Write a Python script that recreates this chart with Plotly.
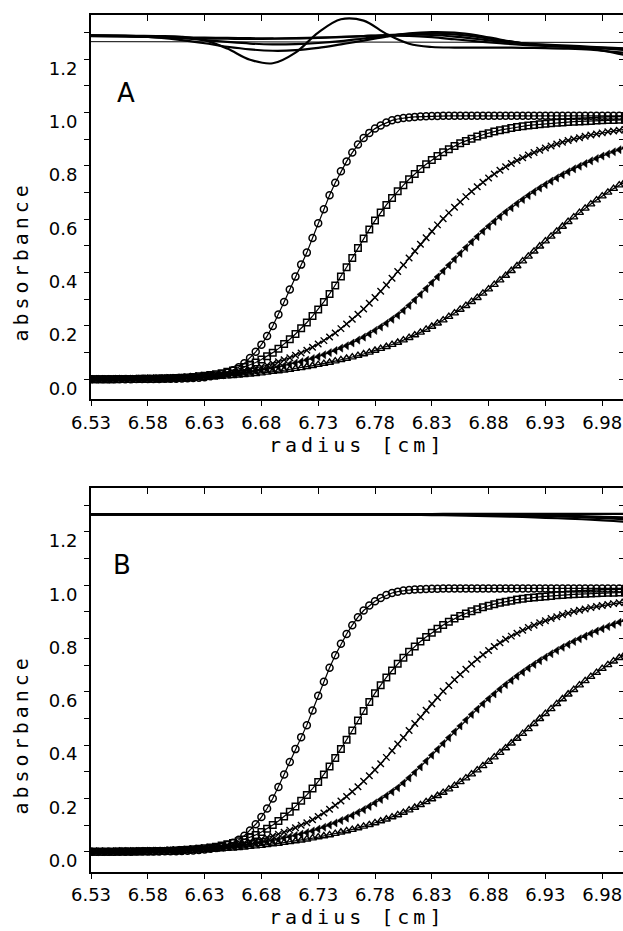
import plotly.graph_objects as go

# ---------------- data ----------------
radius = [6.530, 6.535, 6.540, 6.545, 6.550, 6.555, 6.560, 6.565, 6.570, 6.575,
          6.580, 6.585, 6.590, 6.595, 6.600, 6.605, 6.610, 6.615, 6.620, 6.625,
          6.630, 6.635, 6.640, 6.645, 6.650, 6.655, 6.660, 6.665, 6.670, 6.675,
          6.680, 6.685, 6.690, 6.695, 6.700, 6.705, 6.710, 6.715, 6.720, 6.725,
          6.730, 6.735, 6.740, 6.745, 6.750, 6.755, 6.760, 6.765, 6.770, 6.775,
          6.780, 6.785, 6.790, 6.795, 6.800, 6.805, 6.810, 6.815, 6.820, 6.825,
          6.830, 6.835, 6.840, 6.845, 6.850, 6.855, 6.860, 6.865, 6.870, 6.875,
          6.880, 6.885, 6.890, 6.895, 6.900, 6.905, 6.910, 6.915, 6.920, 6.925,
          6.930, 6.935, 6.940, 6.945, 6.950, 6.955, 6.960, 6.965, 6.970, 6.975,
          6.980, 6.985, 6.990, 6.995, 7.000]

scan1_circles = [0.000, 0.000, 0.000, 0.000, 0.000, 0.000, 0.000, 0.000, 0.001, 0.001,
                 0.001, 0.001, 0.001, 0.002, 0.002, 0.002, 0.003, 0.004, 0.005, 0.006,
                 0.008, 0.011, 0.014, 0.019, 0.025, 0.034, 0.045, 0.060, 0.080, 0.103,
                 0.130, 0.162, 0.200, 0.243, 0.290, 0.337, 0.385, 0.430, 0.475, 0.530,
                 0.585, 0.638, 0.690, 0.737, 0.780, 0.817, 0.850, 0.880, 0.905, 0.924,
                 0.940, 0.952, 0.963, 0.971, 0.976, 0.980, 0.982, 0.984, 0.985, 0.986,
                 0.987, 0.987, 0.988, 0.988, 0.988, 0.988, 0.988, 0.988, 0.988, 0.988,
                 0.988, 0.988, 0.988, 0.988, 0.988, 0.988, 0.988, 0.988, 0.988, 0.988,
                 0.988, 0.988, 0.988, 0.988, 0.988, 0.988, 0.988, 0.988, 0.988, 0.988,
                 0.988, 0.988, 0.988, 0.988, 0.988]

scan2_squares = [0.000, 0.000, 0.000, 0.000, 0.000, 0.001, 0.001, 0.001, 0.001, 0.002,
                 0.002, 0.002, 0.003, 0.003, 0.004, 0.005, 0.006, 0.007, 0.009, 0.011,
                 0.013, 0.016, 0.019, 0.023, 0.028, 0.033, 0.039, 0.046, 0.054, 0.063,
                 0.074, 0.086, 0.100, 0.115, 0.132, 0.150, 0.170, 0.191, 0.213, 0.237,
                 0.262, 0.290, 0.320, 0.352, 0.385, 0.420, 0.455, 0.492, 0.528, 0.562,
                 0.595, 0.625, 0.654, 0.680, 0.705, 0.728, 0.750, 0.770, 0.789, 0.806,
                 0.822, 0.837, 0.851, 0.863, 0.875, 0.885, 0.894, 0.902, 0.910, 0.917,
                 0.923, 0.929, 0.934, 0.938, 0.942, 0.946, 0.949, 0.952, 0.954, 0.956,
                 0.958, 0.960, 0.962, 0.963, 0.965, 0.966, 0.967, 0.968, 0.969, 0.970,
                 0.971, 0.972, 0.972, 0.973, 0.973]

scan3_crosses = [0.000, 0.000, 0.000, 0.001, 0.001, 0.001, 0.001, 0.002, 0.002, 0.002,
                 0.003, 0.003, 0.004, 0.005, 0.006, 0.007, 0.008, 0.009, 0.011, 0.013,
                 0.015, 0.017, 0.019, 0.021, 0.024, 0.027, 0.030, 0.034, 0.038, 0.042,
                 0.047, 0.053, 0.059, 0.066, 0.073, 0.081, 0.090, 0.099, 0.109, 0.120,
                 0.132, 0.145, 0.159, 0.174, 0.190, 0.207, 0.225, 0.244, 0.264, 0.285,
                 0.307, 0.330, 0.354, 0.379, 0.404, 0.429, 0.455, 0.481, 0.506, 0.531,
                 0.555, 0.579, 0.602, 0.624, 0.645, 0.665, 0.685, 0.704, 0.722, 0.739,
                 0.755, 0.770, 0.784, 0.797, 0.809, 0.820, 0.831, 0.841, 0.850, 0.859,
                 0.867, 0.875, 0.882, 0.889, 0.895, 0.901, 0.906, 0.911, 0.916, 0.920,
                 0.924, 0.928, 0.931, 0.934, 0.937]

scan4_filled_tri = [0.000, 0.000, 0.000, 0.000, 0.001, 0.001, 0.001, 0.001, 0.002, 0.002,
                    0.002, 0.003, 0.003, 0.004, 0.004, 0.005, 0.006, 0.007, 0.008, 0.009,
                    0.011, 0.012, 0.014, 0.016, 0.018, 0.020, 0.022, 0.025, 0.028, 0.031,
                    0.034, 0.038, 0.042, 0.046, 0.051, 0.056, 0.061, 0.066, 0.072, 0.078,
                    0.085, 0.092, 0.100, 0.108, 0.117, 0.126, 0.136, 0.147, 0.158, 0.170,
                    0.183, 0.196, 0.210, 0.225, 0.240, 0.258, 0.277, 0.297, 0.318, 0.340,
                    0.362, 0.384, 0.406, 0.428, 0.450, 0.472, 0.494, 0.515, 0.535, 0.555,
                    0.574, 0.592, 0.610, 0.627, 0.643, 0.659, 0.674, 0.689, 0.703, 0.717,
                    0.730, 0.743, 0.755, 0.767, 0.778, 0.789, 0.799, 0.809, 0.819, 0.828,
                    0.837, 0.845, 0.853, 0.861, 0.868]

scan5_open_tri = [0.000, 0.000, 0.000, 0.000, 0.000, 0.001, 0.001, 0.001, 0.001, 0.001,
                  0.002, 0.002, 0.002, 0.002, 0.003, 0.003, 0.004, 0.004, 0.005, 0.006,
                  0.007, 0.008, 0.009, 0.010, 0.012, 0.013, 0.015, 0.017, 0.019, 0.021,
                  0.023, 0.026, 0.029, 0.031, 0.034, 0.037, 0.040, 0.043, 0.047, 0.051,
                  0.055, 0.059, 0.063, 0.068, 0.073, 0.078, 0.083, 0.089, 0.095, 0.101,
                  0.108, 0.115, 0.122, 0.130, 0.138, 0.147, 0.156, 0.166, 0.176, 0.187,
                  0.198, 0.210, 0.222, 0.235, 0.248, 0.262, 0.276, 0.291, 0.306, 0.322,
                  0.338, 0.355, 0.372, 0.389, 0.407, 0.425, 0.443, 0.461, 0.480, 0.499,
                  0.518, 0.536, 0.555, 0.573, 0.591, 0.608, 0.625, 0.641, 0.657, 0.672,
                  0.687, 0.701, 0.715, 0.728, 0.741]

# residuals (plotted with an offset near the top of each panel)
resid_radius = [6.53, 6.55, 6.57, 6.59, 6.61, 6.63, 6.65, 6.67, 6.69, 6.71, 6.73, 6.75, 6.77,
                6.79, 6.81, 6.83, 6.85, 6.87, 6.89, 6.91, 6.93, 6.95, 6.97, 6.99, 7.01]

residA_1 = [1.290, 1.289, 1.288, 1.287, 1.284, 1.272, 1.240, 1.198, 1.185, 1.225, 1.300, 1.350, 1.345,
            1.295, 1.258, 1.246, 1.244, 1.244, 1.244, 1.243, 1.242, 1.240, 1.236, 1.228, 1.220]
residA_2 = [1.289, 1.288, 1.286, 1.281, 1.272, 1.260, 1.247, 1.237, 1.232, 1.234, 1.243, 1.256, 1.270,
            1.285, 1.297, 1.302, 1.300, 1.290, 1.274, 1.260, 1.251, 1.246, 1.240, 1.225, 1.205]
residA_3 = [1.290, 1.289, 1.287, 1.284, 1.279, 1.272, 1.265, 1.259, 1.256, 1.257, 1.261, 1.268, 1.278,
            1.288, 1.294, 1.296, 1.293, 1.284, 1.271, 1.260, 1.253, 1.248, 1.244, 1.238, 1.232]
residA_4 = [1.288, 1.287, 1.285, 1.282, 1.280, 1.278, 1.277, 1.276, 1.277, 1.279, 1.281, 1.284, 1.287,
            1.289, 1.288, 1.283, 1.275, 1.267, 1.260, 1.254, 1.250, 1.247, 1.244, 1.241, 1.238]
residA_5 = [1.287, 1.286, 1.285, 1.283, 1.282, 1.281, 1.280, 1.279, 1.278, 1.278, 1.280, 1.283, 1.287,
            1.291, 1.293, 1.291, 1.285, 1.276, 1.267, 1.260, 1.255, 1.251, 1.247, 1.243, 1.239]

residB_1 = [1.267, 1.267, 1.267, 1.267, 1.267, 1.267, 1.267, 1.267, 1.267, 1.267, 1.267, 1.267, 1.267,
            1.267, 1.267, 1.267, 1.268, 1.268, 1.268, 1.268, 1.268, 1.268, 1.268, 1.268, 1.268]
residB_2 = [1.266, 1.266, 1.266, 1.266, 1.266, 1.266, 1.266, 1.266, 1.266, 1.266, 1.266, 1.266, 1.266,
            1.266, 1.265, 1.265, 1.264, 1.263, 1.262, 1.261, 1.259, 1.257, 1.254, 1.250, 1.246]
residB_3 = [1.266, 1.266, 1.266, 1.266, 1.266, 1.266, 1.266, 1.266, 1.266, 1.266, 1.266, 1.266, 1.266,
            1.265, 1.264, 1.263, 1.262, 1.260, 1.258, 1.256, 1.253, 1.250, 1.246, 1.241, 1.236]
residB_4 = [1.265, 1.265, 1.265, 1.265, 1.265, 1.265, 1.265, 1.265, 1.265, 1.265, 1.265, 1.265, 1.265,
            1.265, 1.265, 1.265, 1.265, 1.264, 1.263, 1.262, 1.261, 1.259, 1.257, 1.254, 1.250]
residB_5 = [1.266, 1.266, 1.266, 1.266, 1.266, 1.266, 1.266, 1.266, 1.266, 1.266, 1.266, 1.266, 1.266,
            1.266, 1.266, 1.266, 1.266, 1.265, 1.264, 1.263, 1.262, 1.260, 1.258, 1.256, 1.253]

resid_zero_radius = [6.53, 7.01]
resid_zero_level = [1.266, 1.263]

x_tickvals = [6.53, 6.58, 6.63, 6.68, 6.73, 6.78, 6.83, 6.88, 6.93, 6.98]
x_ticktext = ["6.53", "6.58", "6.63", "6.68", "6.73", "6.78", "6.83", "6.88", "6.93", "6.98"]
y_tickvals = [0.0, 0.1, 0.2, 0.3, 0.4, 0.5, 0.6, 0.7, 0.8, 0.9, 1.0, 1.1, 1.2, 1.3]
y_ticktext = ["0.0", "", "0.2", "", "0.4", "", "0.6", "", "0.8", "", "1.0", "", "1.2", ""]

# ---------------- figure ----------------
W, H = 623, 931
fig = go.Figure()

series = [
    (scan1_circles, dict(symbol="circle-open", size=7, color="black", line=dict(width=1.5, color="black"))),
    (scan2_squares, dict(symbol="square-open", size=6.5, color="black", line=dict(width=1.5, color="black"))),
    (scan3_crosses, dict(symbol="x-thin-open", size=6.5, color="black", line=dict(width=1.4, color="black"))),
    (scan4_filled_tri, dict(symbol="triangle-left", size=7, color="black", line=dict(width=0.5, color="black"))),
    (scan5_open_tri, dict(symbol="triangle-up-open", size=7, color="black", line=dict(width=1.4, color="black"))),
]

panels = [
    ("x", "y", [residA_1, residA_2, residA_3, residA_4, residA_5], True),
    ("x2", "y2", [residB_1, residB_2, residB_3, residB_4, residB_5], False),
]

for xa, ya, resids, show_zero in panels:
    if show_zero:
        fig.add_trace(go.Scatter(x=resid_zero_radius, y=resid_zero_level, mode="lines",
                                 line=dict(color="black", width=1), xaxis=xa, yaxis=ya,
                                 showlegend=False, hoverinfo="skip"))
    for r in resids:
        fig.add_trace(go.Scatter(x=resid_radius, y=r, mode="lines",
                                 line=dict(color="black", width=2.2, shape="spline"),
                                 xaxis=xa, yaxis=ya, showlegend=False, hoverinfo="skip"))
    for vals, mk in series:
        fig.add_trace(go.Scatter(x=radius, y=vals, mode="lines+markers",
                                 line=dict(color="black", width=1.2),
                                 marker=mk, xaxis=xa, yaxis=ya,
                                 showlegend=False, hoverinfo="skip"))

# dummy traces so mirrored-tick overlay axes get drawn
fig.add_trace(go.Scatter(x=[None], y=[None], xaxis="x3", yaxis="y", showlegend=False, hoverinfo="skip"))
fig.add_trace(go.Scatter(x=[None], y=[None], xaxis="x", yaxis="y3", showlegend=False, hoverinfo="skip"))
fig.add_trace(go.Scatter(x=[None], y=[None], xaxis="x4", yaxis="y2", showlegend=False, hoverinfo="skip"))
fig.add_trace(go.Scatter(x=[None], y=[None], xaxis="x2", yaxis="y4", showlegend=False, hoverinfo="skip"))

x_left = 91.0
x_dom = [x_left / W, 1.0]
x_range = [6.53, 6.53 + (W - x_left) / 1136.0]
yA_dom = [(H - 399.3) / H, (H - 15.0) / H]
yB_dom = [(H - 871.7) / H, (H - 487.7) / H]
y_range = [-0.075, 1.366]

tickfont = dict(family="DejaVu Sans", size=18, color="black")

def main_x(dom_anchor):
    return dict(domain=x_dom, range=x_range, anchor=dom_anchor, showline=True, mirror=True,
                linecolor="black", linewidth=2, ticks="outside", ticklen=5, tickwidth=1.3,
                tickcolor="black", tickvals=x_tickvals, ticktext=x_ticktext, tickfont=tickfont,
                ticklabelstandoff=1,
                showgrid=False, zeroline=False, automargin=False, fixedrange=True)

def main_y(dom, anchor):
    return dict(domain=dom, range=y_range, anchor=anchor, showline=True, mirror=True,
                linecolor="black", linewidth=2, ticks="outside", ticklen=5, tickwidth=1.3,
                tickcolor="black", tickvals=y_tickvals, ticktext=y_ticktext, tickfont=tickfont,
                ticklabelshift=9, ticklabelstandoff=3,
                showgrid=False, zeroline=False, automargin=False, fixedrange=True)

def top_x(over, anchor):
    return dict(domain=x_dom, range=x_range, overlaying=over, anchor=anchor, side="top",
                showline=False, ticks="inside", ticklen=6, tickwidth=1.3, tickcolor="black",
                tickvals=x_tickvals, showticklabels=False, showgrid=False, zeroline=False,
                automargin=False, fixedrange=True)

def right_y(over, anchor, dom):
    return dict(domain=dom, range=y_range, overlaying=over, anchor=anchor, side="right",
                showline=False, ticks="inside", ticklen=4, tickwidth=1.3, tickcolor="black",
                tickvals=y_tickvals, showticklabels=False, showgrid=False, zeroline=False,
                automargin=False, fixedrange=True)

title_font = dict(family="DejaVu Sans Mono", size=20, color="black")
spaced = lambda s: '<span style="letter-spacing:4px">' + s + "</span>"

annotations = []
for ycen, yt, lab, lx, ly in [(261.5, 445.0, "A", 126.0, 93.0), (734.5, 917.0, "B", 122.0, 565.0)]:
    annotations.append(dict(text=spaced("absorbance"), x=20.0 / W, y=1 - ycen / H, xref="paper", yref="paper",
                            textangle=-90, showarrow=False, xanchor="center", yanchor="middle", font=title_font))
    annotations.append(dict(text=spaced("radius [cm]"), x=357.0 / W, y=1 - yt / H, xref="paper", yref="paper",
                            showarrow=False, xanchor="center", yanchor="middle", font=title_font))
    annotations.append(dict(text=lab, x=lx / W, y=1 - ly / H, xref="paper", yref="paper",
                            showarrow=False, xanchor="center", yanchor="middle",
                            font=dict(family="DejaVu Sans", size=26, color="black")))

fig.update_layout(
    width=W, height=H,
    margin=dict(l=0, r=0, t=0, b=0, pad=0),
    paper_bgcolor="white", plot_bgcolor="white",
    showlegend=False,
    xaxis=main_x("y"), yaxis=main_y(yA_dom, "x"),
    xaxis2=main_x("y2"), yaxis2=main_y(yB_dom, "x2"),
    xaxis3=top_x("x", "y"), yaxis3=right_y("y", "x", yA_dom),
    xaxis4=top_x("x2", "y2"), yaxis4=right_y("y2", "x2", yB_dom),
    annotations=annotations,
)

fig.write_html("out.html", config={"displayModeBar": False})
